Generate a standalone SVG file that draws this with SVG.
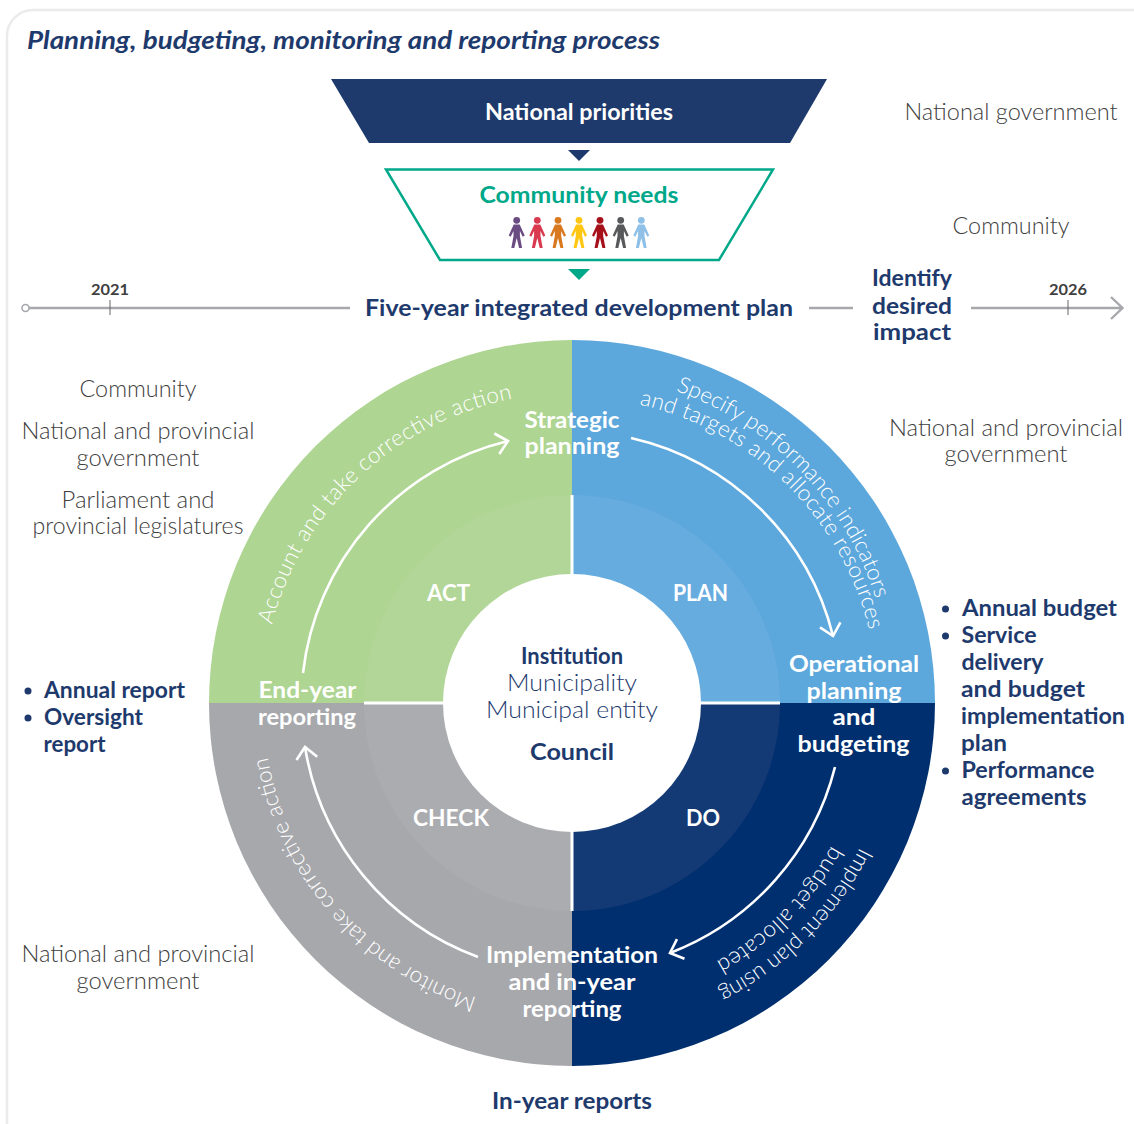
<svg xmlns="http://www.w3.org/2000/svg" xmlns:xlink="http://www.w3.org/1999/xlink" width="1134" height="1124" viewBox="0 0 1134 1124">
<style>
text{font-family:"Lato","Open Sans","Liberation Sans",sans-serif;font-size:23px}
.b{font-weight:700}
.l{font-weight:300}
.m{text-anchor:middle}
.navy{fill:#1E3A6D}
.grey{fill:#404040}
.w{fill:#fff}
.c{font-size:22.5px;font-weight:300;fill:#fff}
.arc{fill:none;stroke:#fff;stroke-width:2.6;marker-end:url(#chev)}
.tl{fill:none;stroke:#A7A8AC;stroke-width:2.4}
.div{stroke:#fff;stroke-width:3}
</style>
<defs>
<marker id="chev" markerUnits="userSpaceOnUse" markerWidth="30" markerHeight="30" refX="15" refY="15" orient="auto" viewBox="0 0 30 30">
<path d="M3.5 4.5 L15 15 L3.5 25.5" fill="none" stroke="#fff" stroke-width="2.6"/>
</marker>
<g id="person">
<circle cx="0" cy="3.3" r="3.4"/>
<path d="M-3 7.5 H3 L8 18.5 L6 19.8 L3.2 14 L3.2 19 L5.4 31 L2.4 31 L0 21 L-2.4 31 L-5.4 31 L-3.2 19 L-3.2 14 L-6 19.8 L-8 18.5 Z"/>
</g>
<path id="p1" d="M675.8 390.8 A322 322 0 0 1 876.4 601.1 L882.7 620"/>
<path id="p2" d="M639.3 404.5 A306 306 0 0 1 873.4 649.9"/>
<path id="p3" d="M272 624.8 A310 310 0 0 1 545 394.2"/>
<path id="p4" d="M477 997.6 A309 309 0 0 1 263.2 713.8"/>
<path id="p5" d="M860 847.2 A322 322 0 0 1 655.3 1014"/>
<path id="p6" d="M831.4 845.6 A296 296 0 0 1 648.6 988.9"/>
</defs>
<rect id="card" x="7" y="10" width="1170" height="1170" rx="26" fill="#fff" stroke="#EBEBEB" stroke-width="2.5"/>
<text id="title" x="27" y="49" class="b navy" font-style="italic" textLength="633" lengthAdjust="spacingAndGlyphs" style="font-size:24px">Planning, budgeting, monitoring and reporting process</text>

<g id="national-priorities">
<polygon points="331,79 827,79 790,143 369,143" fill="#1E3A6D"/>
<text x="579" y="120" class="b m w" textLength="188" lengthAdjust="spacingAndGlyphs">National priorities</text>
</g>
<polygon id="tri-navy" points="568,150 590,150 579,161" fill="#1E3A6D"/>
<g id="community-needs">
<polygon points="386,169.500 773,169.500 719,260 440,260" fill="#fff" stroke="#00A88A" stroke-width="2.5"/>
<text x="579" y="203" class="b m" fill="#00A88A" textLength="199" lengthAdjust="spacingAndGlyphs">Community needs</text>
<use xlink:href="#person" href="#person" x="516.700" y="217" fill="#6B4C82"/>
<use xlink:href="#person" href="#person" x="537.300" y="217" fill="#D93A4F"/>
<use xlink:href="#person" href="#person" x="558" y="217" fill="#D9791F"/>
<use xlink:href="#person" href="#person" x="579" y="217" fill="#FFC613"/>
<use xlink:href="#person" href="#person" x="600" y="217" fill="#A6101A"/>
<use xlink:href="#person" href="#person" x="620.700" y="217" fill="#58595B"/>
<use xlink:href="#person" href="#person" x="641.300" y="217" fill="#8FC0E8"/>
</g>
<polygon id="tri-teal" points="568,269 590,269 579,280" fill="#00A88A"/>

<g id="timeline">
<path class="tl" d="M29 308 H350 M809 308 H853 M971 308 H1122 M1111 297 L1122.500 308 L1111 319"/>
<circle cx="25.500" cy="308" r="3.500" fill="#fff" stroke="#A7A8AC" stroke-width="1.600"/>
<path d="M110 300 V315 M1068 300 V315" stroke="#666" stroke-width="1"/>
<text x="110" y="294.500" class="b m grey" style="font-size:16px" textLength="38" lengthAdjust="spacingAndGlyphs">2021</text>
<text x="1068" y="294.500" class="b m grey" style="font-size:16px" textLength="38" lengthAdjust="spacingAndGlyphs">2026</text>
<text x="579" y="316" class="b m navy" textLength="428" lengthAdjust="spacingAndGlyphs">Five-year integrated development plan</text>
<text x="912" y="286" class="b m navy" textLength="80" lengthAdjust="spacingAndGlyphs">Identify</text>
<text x="912" y="313.500" class="b m navy" textLength="80" lengthAdjust="spacingAndGlyphs">desired</text>
<text x="912" y="340" class="b m navy" textLength="78" lengthAdjust="spacingAndGlyphs">impact</text>
</g>

<g id="side-labels" class="l">
<text x="1011" y="120" class="l m grey" textLength="213" lengthAdjust="spacingAndGlyphs">National government</text>
<text x="1011" y="233.500" class="l m grey" textLength="117" lengthAdjust="spacingAndGlyphs">Community</text>
<text x="138" y="397" class="l m grey" textLength="117" lengthAdjust="spacingAndGlyphs">Community</text>
<text x="138" y="439" class="l m grey" textLength="233" lengthAdjust="spacingAndGlyphs">National and provincial</text>
<text x="138" y="466" class="l m grey" textLength="123" lengthAdjust="spacingAndGlyphs">government</text>
<text x="138" y="508" class="l m grey" textLength="153" lengthAdjust="spacingAndGlyphs">Parliament and</text>
<text x="138" y="534" class="l m grey" textLength="211" lengthAdjust="spacingAndGlyphs">provincial legislatures</text>
<text x="1006" y="436" class="l m grey" textLength="234" lengthAdjust="spacingAndGlyphs">National and provincial</text>
<text x="1006" y="462" class="l m grey" textLength="123" lengthAdjust="spacingAndGlyphs">government</text>
<text x="138" y="962" class="l m grey" textLength="233" lengthAdjust="spacingAndGlyphs">National and provincial</text>
<text x="138" y="989" class="l m grey" textLength="123" lengthAdjust="spacingAndGlyphs">government</text>
</g>

<g id="wheel">
<path d="M572 703 V340 A363 363 0 0 1 935 703 Z" fill="#5CA7DC"/>
<path d="M572 703 H935 A363 363 0 0 1 572 1066 Z" fill="#002F6F"/>
<path d="M572 703 V1066 A363 363 0 0 1 209 703 Z" fill="#A7A8AC"/>
<path d="M572 703 H209 A363 363 0 0 1 572 340 Z" fill="#AED592"/>
<path d="M572 703 V495 A208 208 0 0 1 780 703 Z" fill="#67ACDF"/>
<path d="M572 703 H780 A208 208 0 0 1 572 911 Z" fill="#143A75"/>
<path d="M572 703 V911 A208 208 0 0 1 364 703 Z" fill="#ABACB0"/>
<path d="M572 703 H364 A208 208 0 0 1 572 495 Z" fill="#B1D697"/>
<path class="div" d="M364 703 H780 M572 495 V911"/>
<circle cx="572" cy="703" r="129" fill="#fff"/>
</g>

<g id="connectors">
<path class="arc" d="M631 438 A270 270 0 0 1 833 636"/>
<path class="arc" d="M835 767 A270 270 0 0 1 670 953"/>
<path class="arc" d="M478 957 A270 270 0 0 1 305 747"/>
<path class="arc" d="M303 673 A270 270 0 0 1 508 441"/>
</g>

<g id="arc-labels">
<text class="c"><textPath href="#p1" xlink:href="#p1" textLength="299" lengthAdjust="spacing">Specify performance indicators</textPath></text>
<text class="c"><textPath href="#p2" xlink:href="#p2" textLength="339" lengthAdjust="spacing">and targets and allocate resources</textPath></text>
<text class="c"><textPath href="#p3" xlink:href="#p3" textLength="348" lengthAdjust="spacing">Account and take corrective action</textPath></text>
<text class="c"><textPath href="#p4" xlink:href="#p4" textLength="335" lengthAdjust="spacing">Monitor and take corrective action</textPath></text>
<text class="c"><textPath href="#p5" xlink:href="#p5" textLength="205" lengthAdjust="spacing">Implement plan using</textPath></text>
<text class="c"><textPath href="#p6" xlink:href="#p6" textLength="166" lengthAdjust="spacing">budget allocated</textPath></text>
</g>

<g id="node-strategic-planning">
<text x="572" y="428" class="b m w" textLength="95" lengthAdjust="spacingAndGlyphs">Strategic</text>
<text x="572" y="454" class="b m w" textLength="95" lengthAdjust="spacingAndGlyphs">planning</text>
</g>
<g id="node-operational-planning">
<text x="854" y="672" class="b m w" textLength="130" lengthAdjust="spacingAndGlyphs">Operational</text>
<text x="854" y="699" class="b m w" textLength="95" lengthAdjust="spacingAndGlyphs">planning</text>
<text x="854" y="725" class="b m w" textLength="43" lengthAdjust="spacingAndGlyphs">and</text>
<text x="853.500" y="752" class="b m w" textLength="112" lengthAdjust="spacingAndGlyphs">budgeting</text>
</g>
<g id="node-implementation">
<text x="572" y="963" class="b m w" textLength="172" lengthAdjust="spacingAndGlyphs">Implementation</text>
<text x="572" y="990" class="b m w" textLength="127" lengthAdjust="spacingAndGlyphs">and in-year</text>
<text x="572" y="1017" class="b m w" textLength="99" lengthAdjust="spacingAndGlyphs">reporting</text>
</g>
<g id="node-end-year">
<text x="307.500" y="698" class="b m w" textLength="98" lengthAdjust="spacingAndGlyphs">End-year</text>
<text x="307" y="725" class="b m w" textLength="98" lengthAdjust="spacingAndGlyphs">reporting</text>
</g>
<g id="phase-labels">
<text x="448.500" y="601" class="b m w" textLength="43" lengthAdjust="spacingAndGlyphs">ACT</text>
<text x="700.500" y="601" class="b m w" textLength="55" lengthAdjust="spacingAndGlyphs">PLAN</text>
<text x="451" y="826" class="b m w" textLength="76" lengthAdjust="spacingAndGlyphs">CHECK</text>
<text x="703" y="826" class="b m w" textLength="34" lengthAdjust="spacingAndGlyphs">DO</text>
</g>
<g id="node-centre">
<text x="572" y="664" class="b m navy" textLength="102" lengthAdjust="spacingAndGlyphs">Institution</text>
<text x="572" y="691" class="l m navy" textLength="130" lengthAdjust="spacingAndGlyphs">Municipality</text>
<text x="572" y="718" class="l m navy" textLength="172" lengthAdjust="spacingAndGlyphs">Municipal entity</text>
<text x="572" y="760" class="b m navy" textLength="84" lengthAdjust="spacingAndGlyphs">Council</text>
</g>

<g id="list-right" class="navy">
<circle cx="945.500" cy="609" r="3.500"/><circle cx="945.500" cy="636" r="3.500"/><circle cx="945.500" cy="771" r="3.500"/>
<text x="962" y="616" class="b" textLength="155" lengthAdjust="spacingAndGlyphs">Annual budget</text>
<text x="961.500" y="643" class="b" textLength="75" lengthAdjust="spacingAndGlyphs">Service</text>
<text x="961.500" y="670" class="b" textLength="82" lengthAdjust="spacingAndGlyphs">delivery</text>
<text x="961" y="697" class="b" textLength="124" lengthAdjust="spacingAndGlyphs">and budget</text>
<text x="961" y="724" class="b" textLength="164" lengthAdjust="spacingAndGlyphs">implementation</text>
<text x="961" y="751" class="b" textLength="46" lengthAdjust="spacingAndGlyphs">plan</text>
<text x="961.500" y="778" class="b" textLength="133" lengthAdjust="spacingAndGlyphs">Performance</text>
<text x="961.500" y="805" class="b" textLength="125" lengthAdjust="spacingAndGlyphs">agreements</text>
</g>
<g id="list-left" class="navy">
<circle cx="28" cy="691" r="3.500"/><circle cx="28" cy="718" r="3.500"/>
<text x="44" y="698" class="b" textLength="141" lengthAdjust="spacingAndGlyphs">Annual report</text>
<text x="44" y="725" class="b" textLength="99" lengthAdjust="spacingAndGlyphs">Oversight</text>
<text x="43.500" y="752" class="b" textLength="62" lengthAdjust="spacingAndGlyphs">report</text>
</g>
<text id="in-year-reports" x="572" y="1109" class="b m navy" textLength="160" lengthAdjust="spacingAndGlyphs">In-year reports</text>
</svg>
